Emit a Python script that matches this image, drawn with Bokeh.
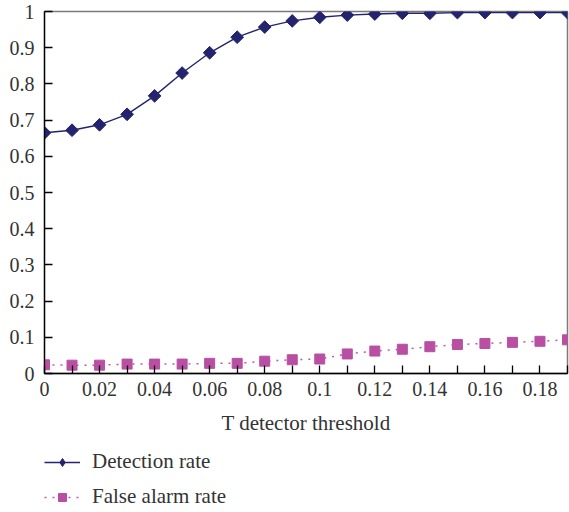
import math
from bokeh.plotting import figure
from bokeh.layouts import column
from bokeh.models import FixedTicker, Legend, LegendItem, Range1d
from bokeh.embed import file_html
from bokeh.resources import INLINE

thresholds = [0.00, 0.01, 0.02, 0.03, 0.04, 0.05, 0.06, 0.07, 0.08, 0.09,
              0.10, 0.11, 0.12, 0.13, 0.14, 0.15, 0.16, 0.17, 0.18, 0.19]
detection_rate = [0.665, 0.672, 0.687, 0.716, 0.767, 0.830, 0.886, 0.929, 0.957, 0.974,
                  0.984, 0.990, 0.993, 0.995, 0.995, 0.997, 0.997, 0.997, 0.997, 0.997]
false_alarm_rate = [0.024, 0.023, 0.023, 0.026, 0.026, 0.026, 0.028, 0.028, 0.034, 0.038,
                    0.040, 0.054, 0.062, 0.067, 0.074, 0.080, 0.083, 0.086, 0.089, 0.093]
x_major_ticks = [0, 0.02, 0.04, 0.06, 0.08, 0.1, 0.12, 0.14, 0.16, 0.18]
x_minor_ticks = [0.01, 0.03, 0.05, 0.07, 0.09, 0.11, 0.13, 0.15, 0.17, 0.19]
y_ticks = [0, 0.1, 0.2, 0.3, 0.4, 0.5, 0.6, 0.7, 0.8, 0.9, 1]
series_names = ["Detection rate", "False alarm rate"]

FONT = "Liberation Serif"
TXT = "#333333"
DET_COLOR = "#24246e"
FA_COLOR = "#b84fa3"
FA_LINE = "#c055ad"
FA_DASH = "2 6"

p = figure(width=569, height=435, output_backend="svg", toolbar_location=None,
           x_range=Range1d(0, 0.19), y_range=Range1d(0, 1),
           min_border_left=44, min_border_right=2, min_border_top=11, min_border_bottom=0)
p.frame_width = 523
p.frame_height = 362
p.background_fill_color = "white"
p.border_fill_color = "white"
p.outline_line_color = "#7a7a7a"
p.outline_line_width = 1.5
p.xgrid.visible = False
p.ygrid.visible = False

p.line(thresholds, detection_rate, line_color=DET_COLOR, line_width=1.4)
p.scatter(thresholds, detection_rate, marker="square", size=9, angle=math.pi / 4,
          fill_color=DET_COLOR, line_color=DET_COLOR)
p.line(thresholds, false_alarm_rate, line_color=FA_LINE, line_width=1.5, line_dash=FA_DASH)
p.scatter(thresholds, false_alarm_rate, marker="square", size=10,
          fill_color=FA_COLOR, line_color=FA_COLOR)

xa = p.xaxis[0]
xa.ticker = FixedTicker(ticks=x_major_ticks, minor_ticks=x_minor_ticks)
xa.major_label_overrides = {0: "0", 0.1: "0.1"}
xa.axis_label = "T detector threshold"
ya = p.yaxis[0]
ya.ticker = FixedTicker(ticks=y_ticks)
ya.major_label_overrides = {0: "0", 1: "1"}

for ax in (xa, ya):
    ax.axis_line_color = "black"
    ax.axis_line_width = 1.3
    ax.major_tick_line_color = "black"
    ax.major_tick_line_width = 1.3
    ax.major_tick_in = 8
    ax.major_tick_out = 0
    ax.major_label_text_font = FONT
    ax.major_label_text_font_size = "20px"
    ax.major_label_text_color = TXT
    ax.axis_label_text_font = FONT
    ax.axis_label_text_font_size = "21px"
    ax.axis_label_text_font_style = "normal"
    ax.axis_label_text_color = TXT
xa.minor_tick_line_color = "black"
xa.minor_tick_line_width = 1.3
xa.minor_tick_in = 8
xa.minor_tick_out = 0
ya.minor_tick_line_color = None
xa.major_label_standoff = 8
xa.axis_label_standoff = 12
ya.major_label_standoff = 10

# Legend strip below the chart (its series lie outside its visible range)
lg = figure(width=569, height=77, output_backend="svg", toolbar_location=None,
            x_axis_type=None, y_axis_type=None, x_range=Range1d(10, 11), y_range=Range1d(10, 11),
            min_border_left=0, min_border_right=0, min_border_top=0, min_border_bottom=0)
lg.outline_line_color = None
lg.xgrid.visible = False
lg.ygrid.visible = False
l1 = lg.line(thresholds, detection_rate, line_color=DET_COLOR, line_width=1.4)
m1 = lg.scatter(thresholds, detection_rate, marker="diamond", size=14,
                fill_color=DET_COLOR, line_color=DET_COLOR)
l2 = lg.line(thresholds, false_alarm_rate, line_color=FA_LINE, line_width=1.5, line_dash=FA_DASH)
m2 = lg.scatter(thresholds, false_alarm_rate, marker="square", size=10,
                fill_color=FA_COLOR, line_color=FA_COLOR)

legend = Legend(items=[
    LegendItem(label=series_names[0], renderers=[l1, m1]),
    LegendItem(label=series_names[1], renderers=[l2, m2]),
], location=(0, 5), orientation="vertical")
legend.label_text_font = FONT
legend.label_text_font_size = "21px"
legend.label_text_color = TXT
legend.border_line_color = None
legend.background_fill_alpha = 0
legend.margin = 0
legend.padding = 0
legend.spacing = 10
legend.glyph_width = 36
legend.glyph_height = 20
legend.label_height = 20
legend.label_standoff = 12
lg.add_layout(legend, "center")

layout = column(p, lg, spacing=0)
html = file_html(layout, INLINE)
open("out.html", "w").write(html)
